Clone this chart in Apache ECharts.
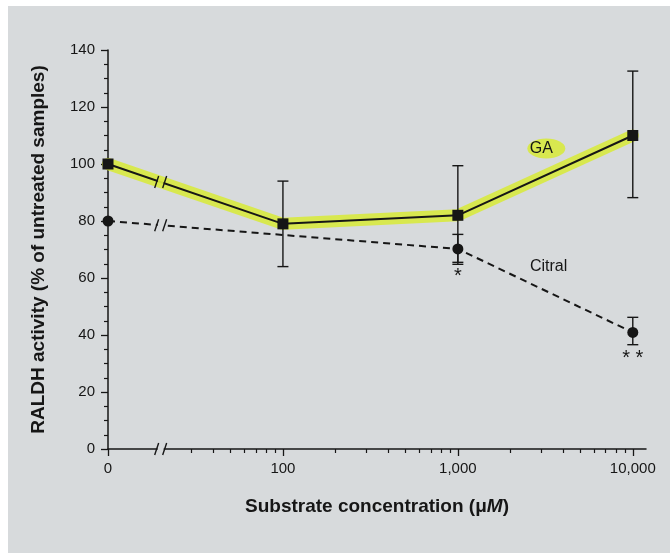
<!DOCTYPE html>
<html>
<head>
<meta charset="utf-8">
<script src="https://cdn.jsdelivr.net/npm/echarts@6/dist/echarts.min.js"></script>
<style>
  html, body { margin: 0; padding: 0; background: #ffffff; }
  #chart { position: absolute; left: 0; top: 0; width: 670px; height: 553px; }
</style>
</head>
<body>
<div id="chart"></div>
<script>
// Substrate concentrations (µM); 0 is the untreated control
const concentrations = [0, 100, 1000, 10000];

// GA: RALDH activity (% of untreated samples) with error bar limits
const gaMean = [100, 79, 82, 110];
const gaLow  = [null, 64, 64.8, 88.2];
const gaHigh = [null, 94, 99.4, 132.6];

// Citral: measured at 0, 1,000 and 10,000 µM
const citralConc = [0, 1000, 10000];
const citralMean = [80, 70.2, 40.9];
const citralLow  = [null, 65.5, 36.6];
const citralHigh = [null, 75.3, 46.2];
const citralSig  = ['', '*', '* *'];

// Axis ticks
const xMajorTicks = [0, 100, 1000, 10000];
const xTickLabels = ['0', '100', '1,000', '10,000'];
const xMinorTicks = [30, 40, 50, 60, 70, 80, 90,
                     200, 300, 400, 500, 600, 700, 800, 900,
                     2000, 3000, 4000, 5000, 6000, 7000, 8000, 9000];
const yMin = 0, yMax = 140, yStep = 20;

// Series label anchors (concentration, activity)
const gaLabelAt = [3000, 105.4];
const citralLabelAt = [3300, 64.1];

// The zero control sits one decade below 100, behind an axis break
const ZERO_POS = 10;
const BREAK_AT = 20;
const X_MAX = 11900;

const INK = '#161616';
const PAPER = '#d7dadc';
const HIGHLIGHT = 'rgba(216, 233, 66, 0.92)';
const FONT = '"Liberation Sans", Arial, sans-serif';

const toAxis = c => (c === 0 ? ZERO_POS : c);

const gaPoints = concentrations.map((c, i) => [toAxis(c), gaMean[i]]);
const citralPoints = citralConc.map((c, i) => [toAxis(c), citralMean[i]]);

const errorBars = [];
concentrations.forEach((c, i) => {
  if (gaLow[i] != null) errorBars.push([toAxis(c), gaLow[i], gaHigh[i]]);
});
citralConc.forEach((c, i) => {
  if (citralLow[i] != null) errorBars.push([toAxis(c), citralLow[i], citralHigh[i]]);
});

const sigMarks = [];
citralConc.forEach((c, i) => {
  if (citralSig[i]) sigMarks.push([toAxis(c), citralLow[i], citralSig[i]]);
});

// value of a line at the break position, interpolated on the log scale
function valueAtBreak(points) {
  const [x0, y0] = points[0], [x1, y1] = points[1];
  const t = (Math.log10(BREAK_AT) - Math.log10(x0)) / (Math.log10(x1) - Math.log10(x0));
  return y0 + (y1 - y0) * t;
}
const breaks = [
  [BREAK_AT, yMin, PAPER],
  [BREAK_AT, valueAtBreak(gaPoints), HIGHLIGHT],
  [BREAK_AT, valueAtBreak(citralPoints), PAPER]
];

const chart = echarts.init(document.getElementById('chart'), null, { renderer: 'canvas' });

const xAxisBase = {
  type: 'log',
  logBase: 10,
  min: ZERO_POS,
  max: X_MAX,
  position: 'bottom',
  splitLine: { show: false }
};

chart.setOption({
  backgroundColor: PAPER,
  animation: false,
  textStyle: { fontFamily: FONT },
  grid: { left: 108, right: 24, top: 50, bottom: 104, containLabel: false },
  graphic: [
    { type: 'rect', shape: { x: 0, y: 0, width: 670, height: 6 }, style: { fill: '#ffffff' }, z: 100 },
    { type: 'rect', shape: { x: 0, y: 0, width: 8, height: 553 }, style: { fill: '#ffffff' }, z: 100 }
  ],
  xAxis: [
    Object.assign({}, xAxisBase, {
      name: 'Substrate concentration ({n|μ}{i|M})',
      nameLocation: 'middle',
      nameGap: 48,
      nameTextStyle: {
        color: INK, fontSize: 19, fontWeight: 'bold', fontFamily: FONT,
        rich: {
          n: { fontSize: 19, fontWeight: 'bold', fontFamily: FONT, color: INK },
          i: { fontSize: 19, fontWeight: 'bold', fontStyle: 'italic', fontFamily: FONT, color: INK }
        }
      },
      axisLine: { show: true, onZero: false, lineStyle: { color: INK, width: 1.5 } },
      axisTick: { show: true, length: 7, customValues: xMajorTicks.map(toAxis), lineStyle: { color: INK, width: 1.3 } },
      axisLabel: {
        show: true, margin: 12, color: INK, fontSize: 15, fontFamily: FONT,
        customValues: xMajorTicks.map(toAxis),
        formatter: v => {
          const k = xMajorTicks.map(toAxis).indexOf(Math.round(v));
          return k >= 0 ? xTickLabels[k] : '';
        }
      }
    }),
    Object.assign({}, xAxisBase, {
      axisLine: { show: false, onZero: false },
      axisTick: { show: true, length: 4, customValues: xMinorTicks, lineStyle: { color: INK, width: 1.2 } },
      axisLabel: { show: false }
    })
  ],
  yAxis: {
    type: 'value',
    min: yMin, max: yMax, interval: yStep,
    name: 'RALDH activity (% of untreated samples)',
    nameLocation: 'middle',
    nameGap: 60,
    nameTextStyle: { color: INK, fontSize: 19, fontWeight: 'bold', fontFamily: FONT },
    axisLine: { show: true, lineStyle: { color: INK, width: 1.5 } },
    axisTick: { show: true, length: 7, lineStyle: { color: INK, width: 1.3 } },
    minorTick: { show: true, splitNumber: 4, length: 4, lineStyle: { color: INK, width: 1.2 } },
    splitLine: { show: false },
    minorSplitLine: { show: false },
    axisLabel: { margin: 13, color: INK, fontSize: 15, fontFamily: FONT }
  },
  series: [
    // marker-pen highlight along the GA curve
    {
      type: 'line', name: 'GA highlight', data: gaPoints, z: 1,
      symbol: 'none', silent: true,
      lineStyle: { color: HIGHLIGHT, width: 12, cap: 'round', join: 'round' }
    },
    {
      type: 'custom', name: 'error bars', data: errorBars, z: 2,
      renderItem: (params, api) => {
        const x = api.value(0);
        const lo = api.coord([x, api.value(1)]);
        const hi = api.coord([x, api.value(2)]);
        const half = 5.5;
        const style = { stroke: INK, lineWidth: 1.4 };
        return {
          type: 'group',
          children: [
            { type: 'line', shape: { x1: lo[0], y1: lo[1], x2: hi[0], y2: hi[1] }, style },
            { type: 'line', shape: { x1: hi[0] - half, y1: hi[1], x2: hi[0] + half, y2: hi[1] }, style },
            { type: 'line', shape: { x1: lo[0] - half, y1: lo[1], x2: lo[0] + half, y2: lo[1] }, style }
          ]
        };
      }
    },
    {
      type: 'line', name: 'GA', data: gaPoints, z: 3,
      symbol: 'rect', symbolSize: 11,
      itemStyle: { color: INK },
      lineStyle: { color: INK, width: 2 }
    },
    {
      type: 'line', name: 'Citral', data: citralPoints, z: 3,
      symbol: 'circle', symbolSize: 11,
      itemStyle: { color: INK },
      lineStyle: { color: INK, width: 2, type: [7, 5] }
    },
    // axis / line breaks: a gap bridged by two slanted strokes
    {
      type: 'custom', name: 'breaks', data: breaks, z: 5, clip: false,
      encode: { x: 0, y: 1 },
      renderItem: (params, api) => {
        const p = api.coord([api.value(0), api.value(1)]);
        const fill = breaks[params.dataIndex][2];
        const s = { stroke: INK, lineWidth: 1.4 };
        return {
          type: 'group',
          children: [
            { type: 'rect', shape: { x: p[0] - 3, y: p[1] - 3, width: 6, height: 6 }, style: { fill } },
            { type: 'line', shape: { x1: p[0] - 6, y1: p[1] + 6, x2: p[0] - 2, y2: p[1] - 6 }, style: s },
            { type: 'line', shape: { x1: p[0] + 2, y1: p[1] + 6, x2: p[0] + 6, y2: p[1] - 6 }, style: s }
          ]
        };
      }
    },
    // significance asterisks below the citral error bars
    {
      type: 'custom', name: 'significance', data: sigMarks, z: 4,
      encode: { x: 0, y: 1 },
      renderItem: (params, api) => {
        const p = api.coord([api.value(0), api.value(1)]);
        return {
          type: 'text',
          style: {
            x: p[0], y: p[1] + 14, text: sigMarks[params.dataIndex][2],
            fill: INK, font: '20px ' + FONT, align: 'center', verticalAlign: 'middle'
          }
        };
      }
    },
    // series names written next to the curves
    {
      type: 'custom', name: 'curve labels', z: 4,
      data: [[gaLabelAt[0], gaLabelAt[1], 'GA'], [citralLabelAt[0], citralLabelAt[1], 'Citral']],
      encode: { x: 0, y: 1 },
      renderItem: (params, api) => {
        const p = api.coord([api.value(0), api.value(1)]);
        const label = params.dataIndex === 0 ? 'GA' : 'Citral';
        const children = [];
        if (label === 'GA') {
          children.push({ type: 'ellipse', shape: { cx: p[0] + 5, cy: p[1], rx: 19, ry: 10 }, style: { fill: HIGHLIGHT } });
        }
        children.push({
          type: 'text',
          style: { x: p[0], y: p[1], text: label, fill: INK, font: '16px ' + FONT, align: 'center', verticalAlign: 'middle' }
        });
        return { type: 'group', children };
      }
    }
  ]
});
</script>
</body>
</html>
